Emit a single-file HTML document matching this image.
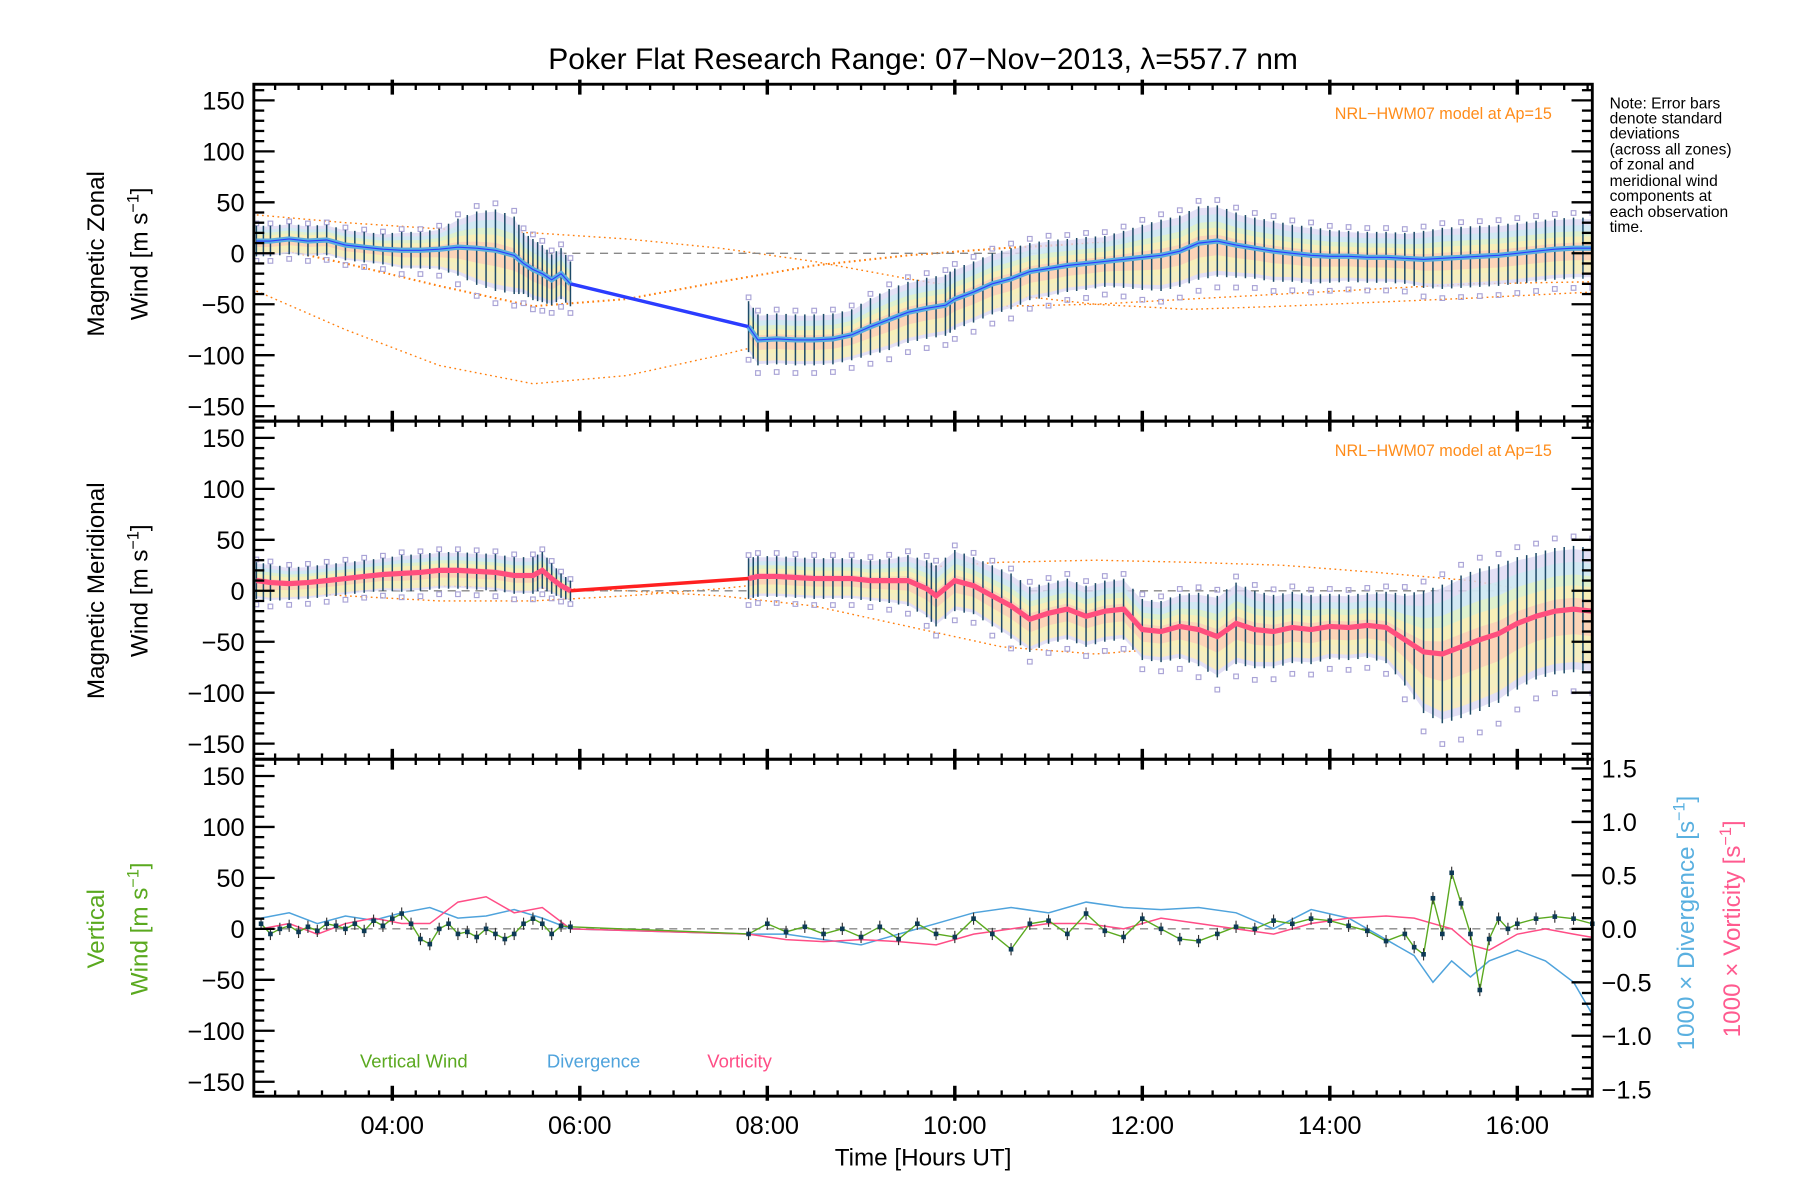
<!DOCTYPE html>
<html><head><meta charset="utf-8"><title>Poker Flat Research Range winds</title>
<style>html,body{margin:0;padding:0;background:#fff}svg{display:block}text{font-family:"Liberation Sans",sans-serif}</style>
</head><body>
<svg id="chart" xmlns="http://www.w3.org/2000/svg" width="1800" height="1200" viewBox="0 0 1560 1040">
<rect x="0" y="0" width="1560" height="1040" fill="#fff"/>
<text x="800" y="60" font-size="26" text-anchor="middle">Poker Flat Research Range: 07−Nov−2013, λ=557.7 nm</text>
<g id="plots"></g>
<text x="800" y="1010" font-size="21" text-anchor="middle">Time [Hours UT]</text>
<g font-size="13.5">
<text x="1395" y="94">Note: Error bars</text><text x="1395" y="107">denote standard</text><text x="1395" y="120">deviations</text><text x="1395" y="134">(across all zones)</text><text x="1395" y="147">of zonal and</text><text x="1395" y="161">meridional wind</text><text x="1395" y="174">components at</text><text x="1395" y="188">each observation</text><text x="1395" y="201">time.</text>
</g>
<text x="1345" y="103" font-size="14" fill="#ff8c1a" text-anchor="end">NRL−HWM07 model at Ap=15</text>
<text x="1345" y="395" font-size="14" fill="#ff8c1a" text-anchor="end">NRL−HWM07 model at Ap=15</text>
<text x="312" y="925" font-size="16" fill="#5aa91f">Vertical Wind</text>
<text x="474" y="925" font-size="16" fill="#4fa3dc">Divergence</text>
<text x="613" y="925" font-size="16" fill="#ff4d86">Vorticity</text>
<text transform="translate(90,220) rotate(-90)" font-size="21" text-anchor="middle">Magnetic Zonal</text>
<text transform="translate(128,220) rotate(-90)" font-size="21" text-anchor="middle">Wind [m s<tspan dy="-8" font-size="14">−1</tspan><tspan dy="8">]</tspan></text>
<text transform="translate(90,512) rotate(-90)" font-size="21" text-anchor="middle">Magnetic Meridional</text>
<text transform="translate(128,512) rotate(-90)" font-size="21" text-anchor="middle">Wind [m s<tspan dy="-8" font-size="14">−1</tspan><tspan dy="8">]</tspan></text>
<text transform="translate(90,805) rotate(-90)" font-size="21" text-anchor="middle" fill="#5aa91f">Vertical</text>
<text transform="translate(128,805) rotate(-90)" font-size="21" text-anchor="middle" fill="#5aa91f">Wind [m s<tspan dy="-8" font-size="14">−1</tspan><tspan dy="8">]</tspan></text>
<text transform="translate(1468,800) rotate(-90)" font-size="21" text-anchor="middle" fill="#5ab0e0">1000 × Divergence [s<tspan dy="-8" font-size="14">−1</tspan><tspan dy="8">]</tspan></text>
<text transform="translate(1508,805) rotate(-90)" font-size="21" text-anchor="middle" fill="#ff5a8f">1000 × Vorticity [s<tspan dy="-8" font-size="14">−1</tspan><tspan dy="8">]</tspan></text>
</svg>
<script>
// ---- data ----
const zonalTimes = [2.55,2.7,2.9,3.1,3.3,3.5,3.7,3.9,4.1,4.3,4.5,4.7,4.9,5.1,5.3,5.4,5.5,5.6,5.7,5.8,5.9];
const zonalMean  = [12,12,14,12,13,8,6,4,3,3,4,6,5,3,-2,-10,-16,-20,-26,-20,-30];
const zonalErr   = [15,15,15,15,15,15,15,15,18,18,20,28,36,40,38,30,30,28,25,25,22];
const zonalTimes2 = [7.8,7.9,8.1,8.3,8.5,8.7,8.9,9.1,9.3,9.5,9.7,9.9,10.0,10.2,10.4,10.6,10.8,11.0,11.2,11.4,11.6,11.8,12.0,12.2,12.4,12.6,12.8,13.0,13.2,13.4,13.6,13.8,14.0,14.2,14.4,14.6,14.8,15.0,15.2,15.4,15.6,15.8,16.0,16.2,16.4,16.6,16.8];
const zonalMean2  = [-72,-85,-84,-85,-85,-84,-80,-72,-65,-58,-54,-51,-45,-38,-30,-25,-18,-15,-12,-10,-8,-6,-4,-2,2,10,12,8,5,2,0,-2,-3,-3,-4,-4,-5,-6,-5,-4,-3,-2,0,2,4,5,5];
const zonalErr2   = [25,25,25,25,25,25,25,28,30,30,30,30,30,30,30,30,28,28,26,26,25,28,32,35,35,36,35,32,30,30,28,28,26,25,25,25,25,28,30,30,30,30,30,30,30,30,30];
const merTimes = [2.55,2.7,2.9,3.1,3.3,3.5,3.7,3.9,4.1,4.3,4.5,4.7,4.9,5.1,5.3,5.5,5.6,5.7,5.8,5.9];
const merMean  = [10,8,7,8,10,12,14,16,17,18,20,20,19,18,15,15,20,12,5,0];
const merErr   = [18,18,16,16,16,16,16,16,18,18,18,18,18,18,18,18,18,15,12,10];
const merTimes2 = [7.8,7.9,8.1,8.3,8.5,8.7,8.9,9.1,9.3,9.5,9.7,9.8,10.0,10.2,10.4,10.6,10.8,11.0,11.2,11.4,11.6,11.8,12.0,12.2,12.4,12.6,12.8,13.0,13.2,13.4,13.6,13.8,14.0,14.2,14.4,14.6,14.8,15.0,15.2,15.4,15.6,15.8,16.0,16.2,16.4,16.6,16.8];
const merMean2  = [12,14,14,13,12,12,12,10,10,10,2,-5,10,5,-5,-15,-28,-22,-18,-25,-20,-18,-38,-40,-35,-38,-45,-32,-38,-40,-36,-38,-35,-36,-34,-36,-48,-60,-62,-55,-48,-42,-32,-25,-20,-18,-20];
const merErr2   = [20,20,20,20,20,20,20,20,22,25,28,30,30,28,30,32,32,30,30,30,30,30,30,30,32,36,40,40,38,36,35,34,32,32,32,35,45,60,68,70,70,68,65,62,62,62,62];
const modelTimes = [2.5,3.5,4.5,5.5,6.5,7.5,8.5,9.5,10.5,11.5,12.5,13.5,14.5,15.5,16.8];
const zonalModelA = [38,30,24,20,14,5,-8,-25,-40,-50,-55,-52,-48,-44,-38];
const zonalModelB = [10,-10,-32,-52,-45,-28,-12,-2,5,10,14,12,6,0,-5];
const zonalModelC = [-35,-75,-110,-128,-120,-100,-78,-60,-52,-50,-45,-40,-35,-30,-28];
const merModelA = [2,-5,-10,-10,-5,2,12,22,28,30,28,25,18,10,-10];
const merModelB = [5,5,5,3,0,-5,-15,-35,-55,-62,-55,-45,-35,-28,-20];
const vertTimes = [2.6,2.7,2.8,2.9,3.0,3.1,3.2,3.3,3.4,3.5,3.6,3.7,3.8,3.9,4.0,4.1,4.2,4.3,4.4,4.5,4.6,4.7,4.8,4.9,5.0,5.1,5.2,5.3,5.4,5.5,5.6,5.7,5.8,5.9,
 7.8,8.0,8.2,8.4,8.6,8.8,9.0,9.2,9.4,9.6,9.8,10.0,10.2,10.4,10.6,10.8,11.0,11.2,11.4,11.6,11.8,12.0,12.2,12.4,12.6,12.8,13.0,13.2,13.4,13.6,13.8,14.0,14.2,14.4,14.6,14.8,14.9,15.0,15.1,15.2,15.3,15.4,15.5,15.6,15.7,15.8,15.9,16.0,16.2,16.4,16.6,16.8];
const vertWind = [5,-5,0,3,-3,2,-2,5,3,0,5,-2,8,3,10,15,5,-10,-15,0,5,-5,-3,-8,0,-5,-10,-5,5,10,5,-5,3,2,
 -5,5,-3,2,-5,0,-8,2,-10,5,-5,-8,10,-5,-20,5,8,-5,15,-2,-8,10,0,-10,-12,-5,2,0,8,5,10,8,3,-2,-12,-5,-18,-25,30,-5,55,25,-5,-60,-10,10,0,5,10,12,10,5];
const lineTimes = [2.6,2.9,3.2,3.5,3.8,4.1,4.4,4.7,5.0,5.3,5.6,5.9,7.8,8.2,8.6,9.0,9.4,9.8,10.2,10.6,11.0,11.4,11.8,12.2,12.6,13.0,13.4,13.8,14.2,14.6,14.9,15.1,15.3,15.5,15.7,16.0,16.3,16.6,16.8];
const divergence = [0.1,0.15,0.05,0.12,0.08,0.15,0.2,0.1,0.12,0.18,0.1,0.0,-0.05,-0.05,-0.1,-0.15,-0.05,0.05,0.15,0.2,0.15,0.25,0.2,0.18,0.2,0.15,0.0,0.18,0.1,-0.1,-0.25,-0.5,-0.3,-0.45,-0.3,-0.2,-0.3,-0.5,-0.8];
const vorticity  = [0.0,0.05,-0.05,0.05,0.1,0.05,0.05,0.25,0.3,0.15,0.2,0.0,-0.05,-0.1,-0.12,-0.1,-0.12,-0.15,-0.05,0.0,0.05,0.05,0.0,0.1,0.05,0.0,-0.05,0.05,0.1,0.12,0.1,0.05,0.0,-0.15,-0.2,-0.05,0.0,-0.05,-0.08];
const timeTicks = ["04:00","06:00","08:00","10:00","12:00","14:00","16:00"];
const windTicks = [150,100,50,0,-50,-100,-150];
const ratioTicks = [1.5,1.0,0.5,0.0,-0.5,-1.0,-1.5];

// ---- axes ----
const X0=220, X1=1380;
const xS = t => 340 + (t-4)*81.25;
const panels=[{top:73,bot:365,zero:219.5},{top:365,bot:658,zero:512},{top:658,bot:950,zero:805}];
const yS = (p,v) => panels[p].zero - v*0.8833;
const yR = v => 805 - v*92.67;
const NS="http://www.w3.org/2000/svg";
const root=document.getElementById('plots');
function el(tag,parent){const e=document.createElementNS(NS,tag);(parent||root).appendChild(e);return e;}
function sa(e,o){for(const k in o)e.setAttribute(k,o[k]);return e;}
function pts(ts,vs,f){return ts.map((t,i)=>xS(t).toFixed(1)+','+f(vs[i]).toFixed(1)).join(' ');}

const defs=el('defs');
const cp=el('clipPath',defs);sa(cp,{id:'clip'});
const cr=el('rect',cp);sa(cr,{x:X0,y:73,width:X1-X0,height:877});

function bandPanel(p,ts,ms,es,name){
  const g=el('g');sa(g,{'clip-path':'url(#clip)'});
  
  
  const cols=['#dcd8f2','#cdebf2','#e2f3c4','#fcefb4','#fbcdb8'];
  const fr=[0.95,0.75,0.55,0.38,0.18];
  cols.forEach((c,k)=>{
    const up=ts.map((t,i)=>xS(t).toFixed(1)+','+yS(p,ms[i]+es[i]*fr[k]).toFixed(1));
    const dn=ts.map((t,i)=>xS(t).toFixed(1)+','+yS(p,ms[i]-es[i]*fr[k]*(k>=3?2.2:1)).toFixed(1)).reverse();
    const pg=el('polygon',g);sa(pg,{points:up.concat(dn).join(' '),fill:c,opacity:0.8});
  });
  ts.forEach((t,i)=>{
    [1.15,-1.3].forEach(s=>{
      const r=el('rect',g);sa(r,{x:xS(t)-2,y:yS(p,ms[i]+s*es[i])-2,width:4,height:4,fill:'none',stroke:'#a9a3d6','stroke-width':1});
      
      
    });
  });
  ts.forEach((t,i)=>{
    const b=el('line',g);sa(b,{x1:xS(t),x2:xS(t),y1:yS(p,ms[i]+es[i]),y2:yS(p,ms[i]-es[i]),stroke:'#1d4a68','stroke-width':1.3});
    
    
    if(i<ts.length-1){const tm=(t+ts[i+1])/2,mm=(ms[i]+ms[i+1])/2,em=(es[i]+es[i+1])/2;
      const b2=el('line',g);sa(b2,{x1:xS(tm),x2:xS(tm),y1:yS(p,mm+em),y2:yS(p,mm-em),stroke:'#1d4a68','stroke-width':1.3});
      
      }
  });
}
function modelLine(p,vs,name,w){
  const l=el('polyline');sa(l,{points:pts(modelTimes,vs,v=>yS(p,v)),fill:'none',stroke:'#ff7f0e','stroke-width':w,'stroke-dasharray':'1.5,3','clip-path':'url(#clip)'});
  
  
}
function zeroDash(y,name){const l=el('line');sa(l,{x1:X0,x2:X1,y1:y,y2:y,stroke:'#888','stroke-width':1.2,'stroke-dasharray':'7,5'});
  
  }

modelLine(0,zonalModelA,'zonal-model-curve-a',1.2);
modelLine(0,zonalModelB,'zonal-model-curve-b',1.8);
modelLine(0,zonalModelC,'zonal-model-curve-c',1.2);
zeroDash(yS(0,0),'zonal-zero-line');
bandPanel(0,zonalTimes,zonalMean,zonalErr,'zonal');
bandPanel(0,zonalTimes2,zonalMean2,zonalErr2,'zonal');
let g1=el('polyline');sa(g1,{points:xS(5.9)+','+yS(0,-30)+' '+xS(7.8)+','+yS(0,-72),stroke:'#2b3cff','stroke-width':3,fill:'none'});


[[zonalTimes,zonalMean],[zonalTimes2,zonalMean2]].forEach(([ts,ms])=>{
  const l=el('polyline');sa(l,{points:pts(ts,ms,v=>yS(0,v)),fill:'none',stroke:'#5aaee0','stroke-width':4.5});
  
  
  const l2=el('polyline');sa(l2,{points:pts(ts,ms,v=>yS(0,v)),fill:'none',stroke:'#2b3cff','stroke-width':1});
  
  
});

modelLine(1,merModelA,'meridional-model-curve-a',1.2);
modelLine(1,merModelB,'meridional-model-curve-b',1.2);
zeroDash(yS(1,0),'meridional-zero-line');
bandPanel(1,merTimes,merMean,merErr,'meridional');
bandPanel(1,merTimes2,merMean2,merErr2,'meridional');
let g2=el('polyline');sa(g2,{points:xS(5.9)+','+yS(1,0)+' '+xS(7.8)+','+yS(1,12),stroke:'#ff2020','stroke-width':3,fill:'none'});


[[merTimes,merMean],[merTimes2,merMean2]].forEach(([ts,ms])=>{
  const l=el('polyline');sa(l,{points:pts(ts,ms,v=>yS(1,v)),fill:'none',stroke:'#ff4f7e','stroke-width':4.5});
  
  
});

zeroDash(yS(2,0),'vertical-zero-line');
const dl=el('polyline');sa(dl,{points:pts(lineTimes,divergence,yR),fill:'none',stroke:'#4fa3dc','stroke-width':1.3,'clip-path':'url(#clip)'});


const vl=el('polyline');sa(vl,{points:pts(lineTimes,vorticity,yR),fill:'none',stroke:'#ff4d86','stroke-width':1.3,'clip-path':'url(#clip)'});


const wl=el('polyline');sa(wl,{points:pts(vertTimes,vertWind,v=>yS(2,v)),fill:'none',stroke:'#5aa91f','stroke-width':1.2});


vertTimes.forEach((t,i)=>{
  const e=el('line');sa(e,{x1:xS(t),x2:xS(t),y1:yS(2,vertWind[i]+6),y2:yS(2,vertWind[i]-6),stroke:'#333','stroke-width':1});
  
  
  const c=el('rect');sa(c,{x:xS(t)-2,y:yS(2,vertWind[i])-2,width:4,height:4,fill:'#0d3a55'});
  
  
});

panels.forEach((p,pi)=>{
  const f=el('rect');sa(f,{x:X0,y:p.top,width:X1-X0,height:p.bot-p.top,fill:'none',stroke:'#000','stroke-width':2.5});
  
  
  for(let m=0;m<=60;m++){const t=2.5+m*0.25;const x=xS(t);if(x<X0||x>X1)continue;
    const major=Math.abs(t-Math.round(t))<1e-6&&Math.round(t)%2===0;const L=major?9:5;
    [[p.top,p.top+L],[p.top-(major?4:0),p.top],[p.bot-L,p.bot],[p.bot,p.bot+(major?4:0)]].forEach(([a,b])=>{
      const tk=el('line');sa(tk,{x1:x,x2:x,y1:a,y2:b,stroke:'#000','stroke-width':major?3:2});});
  }
  for(let v=-160;v<=160;v+=10){const y=yS(pi,v);if(y<p.top||y>p.bot)continue;const major=v%50===0;const L=major?18:9;
    const tk=el('line');sa(tk,{x1:X0,x2:X0+L,y1:y,y2:y,stroke:'#000','stroke-width':2});
    if(pi<2){const tk2=el('line');sa(tk2,{x1:X1-L,x2:X1,y1:y,y2:y,stroke:'#000','stroke-width':2});}}
  windTicks.forEach(v=>{const t=el('text');sa(t,{x:212,y:yS(pi,v)+8,'font-size':22,'text-anchor':'end'});t.textContent=(v<0?'−':'')+Math.abs(v);
    
    });
});
for(let k=-15;k<=15;k++){const v=k/10;const y=yR(v);const major=k%5===0;const L=major?18:9;
  const tk=el('line');sa(tk,{x1:X1-L,x2:X1,y1:y,y2:y,stroke:'#000','stroke-width':2});}
ratioTicks.forEach(v=>{const t=el('text');sa(t,{x:1388,y:yR(v)+8,'font-size':22});t.textContent=(v<0?'−':'')+Math.abs(v).toFixed(1);
  
  });
timeTicks.forEach((s,i)=>{const t=el('text');sa(t,{x:xS(4+2*i),y:983,'font-size':22,'text-anchor':'middle'});t.textContent=s;
  
  });
</script>
</body></html>
